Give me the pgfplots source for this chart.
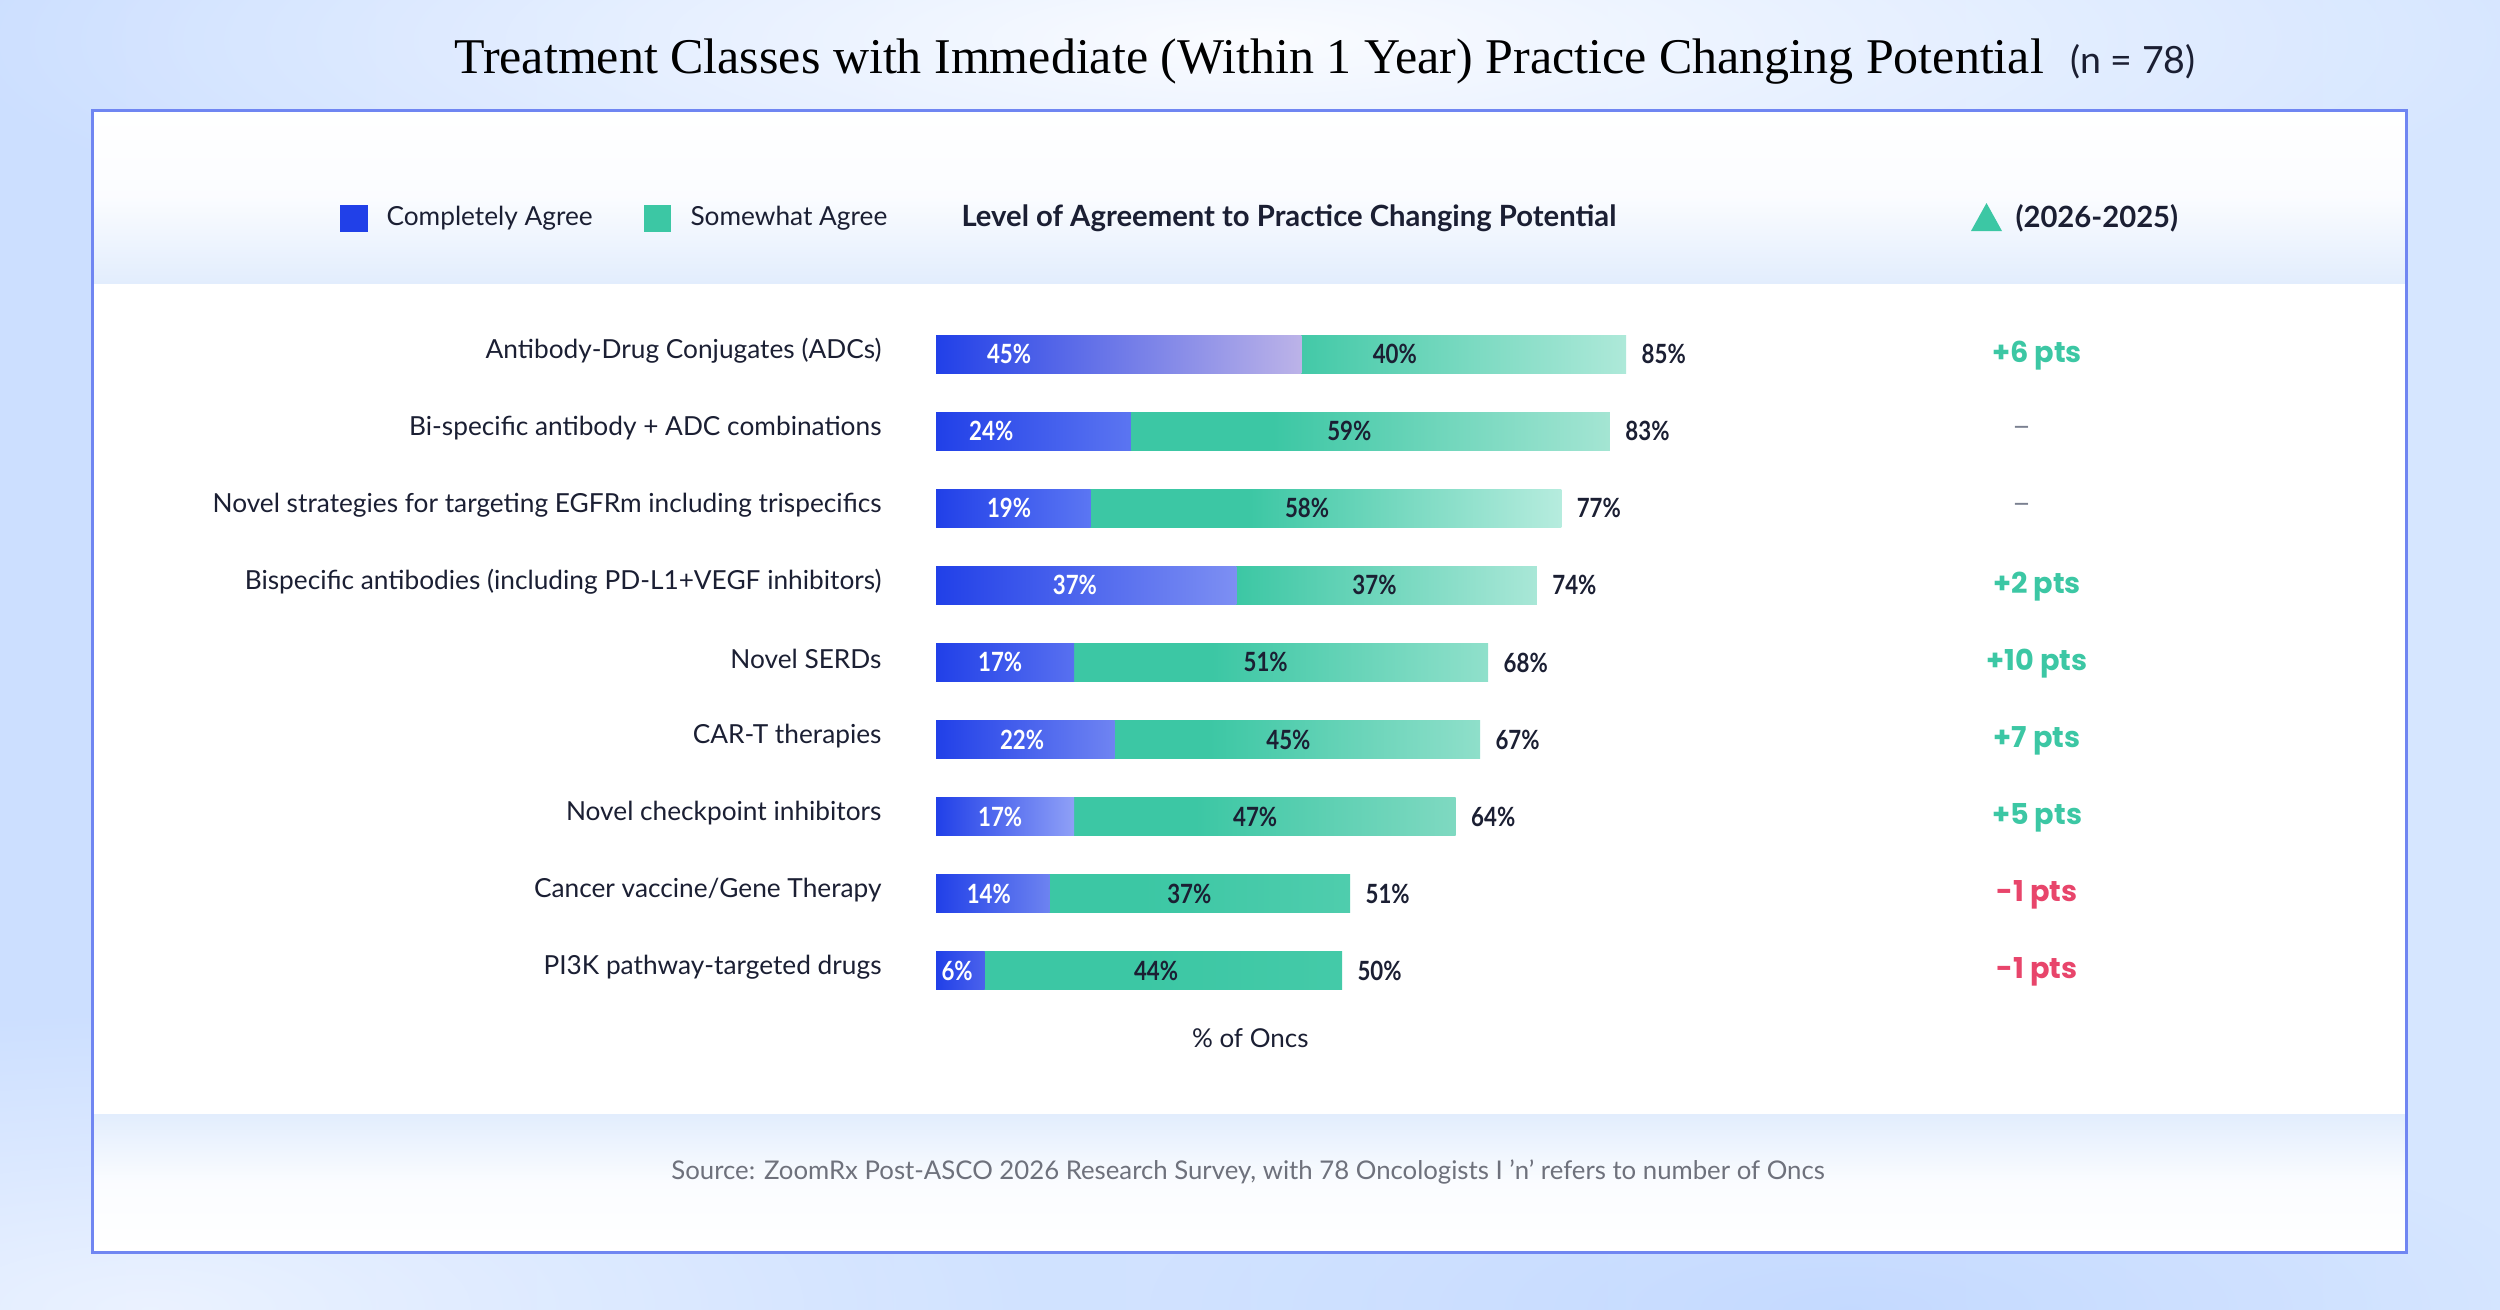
\documentclass[border=0pt]{standalone}
\usepackage{fontspec}
\setmainfont{Lato}
\usepackage{pgfplots}
\pgfplotsset{compat=1.18}
\usepackage{pgfplotstable}
\usetikzlibrary{fadings}

\newfontfamily\titlefont{Liberation Serif}
\newfontfamily\numfont{Lato}[FakeStretch=0.84]
\newfontfamily\deltafont{Poppins}

% palette
\definecolor{ink}{HTML}{1B1F33}
\definecolor{bgL}{HTML}{CCDFFF}
\definecolor{bgR}{HTML}{D6E6FF}
\definecolor{bgDeep}{HTML}{BBD3FF}
\definecolor{frame}{HTML}{7086F2}
\definecolor{hdr}{HTML}{E2EDFD}
\definecolor{srcgray}{HTML}{6E717C}
\definecolor{dashgray}{HTML}{7A8090}
\definecolor{upgreen}{HTML}{3CC7A4}
\definecolor{downred}{HTML}{E8456B}
\definecolor{bL}{HTML}{2140E8}
\definecolor{gL}{HTML}{3CC7A4}
% right-end tints of each bar, top row (0) to bottom row (8)
\definecolor{b0}{HTML}{BCB3E8}
\definecolor{b1}{HTML}{5B75F1}
\definecolor{b2}{HTML}{5B76F3}
\definecolor{b3}{HTML}{7D8FF3}
\definecolor{b4}{HTML}{5870F0}
\definecolor{b5}{HTML}{6F84F2}
\definecolor{b6}{HTML}{8FA0F7}
\definecolor{b7}{HTML}{6D83F0}
\definecolor{b8}{HTML}{4B62EC}
\definecolor{g0}{HTML}{AEE9D9}
\definecolor{g1}{HTML}{A4E5D3}
\definecolor{g2}{HTML}{B6ECDE}
\definecolor{g3}{HTML}{A9E7D7}
\definecolor{g4}{HTML}{90E0CB}
\definecolor{g5}{HTML}{8FDFCA}
\definecolor{g6}{HTML}{7FD9C1}
\definecolor{g7}{HTML}{4FCDAD}
\definecolor{g8}{HTML}{44CAA8}

\tikzfading[name=glow, inner color=transparent!0, outer color=transparent!100]

% ca = completely agree, sa = somewhat agree, tot = ca + sa
% cax / sax = where the segment labels sit
\pgfplotstableread{
row ca sa tot cax  sax
9   45 40 85  9.0  56.5
8   24 59 83  6.8  50.9
7   19 58 77  9.0  45.7
6   37 37 74  17.1 54.0
5   17 51 68  7.9  40.6
4   22 45 67  10.6 43.4
3   17 47 64  7.9  39.3
2   14 37 51  6.5  31.2
1   6  44 50  2.6  27.1
}\agree

\begin{document}
\begin{tikzpicture}
\begin{scope}[x=0.4pt,y=-0.4pt]
  \useasboundingbox (0,0) rectangle (2500,1309);
  % backdrop
  \shade[left color=bgL, right color=bgR] (0,0) rectangle (2500,1309);
  \fill[white, opacity=0.9, path fading=glow] (1250,40) ellipse [x radius=1300, y radius=260];
  \fill[white, opacity=0.6, path fading=glow] (150,1309) ellipse [x radius=900, y radius=300];
  \fill[bgDeep, opacity=0.6, path fading=glow] (1850,1309) ellipse [x radius=700, y radius=200];
  % title
  \node[anchor=base, inner sep=0pt, font=\titlefont\fontsize{20pt}{23pt}\selectfont, text=black]
    at (1249,73) {Treatment Classes with Immediate (Within 1 Year) Practice Changing Potential};
  \node[anchor=base west, inner sep=0pt, font=\fontsize{15pt}{17pt}\selectfont, text=ink]
    at (2070,73) {(n = 78)};
  % panel
  \fill[white] (92,110) rectangle (2406,1252);
  \shade[top color=white, bottom color=hdr, middle color=white!85!hdr] (92,110) rectangle (2406,283);
  \shade[top color=hdr, bottom color=white, middle color=white!85!hdr] (92,1114) rectangle (2406,1252);
  \draw[frame, line width=1.2pt] (92,110) rectangle (2406,1252);
  % header row
  \fill[bL] (340,205) rectangle (368,232);
  \node[anchor=west, inner sep=0pt, font=\fontsize{10.5pt}{12pt}\selectfont, text=ink] at (386,218.5) {Completely Agree};
  \fill[gL] (644,205) rectangle (671,232);
  \node[anchor=west, inner sep=0pt, font=\fontsize{10.5pt}{12pt}\selectfont, text=ink] at (690,218.5) {Somewhat Agree};
  \node[anchor=west, inner sep=0pt, font=\fontsize{11.7pt}{13pt}\selectfont\bfseries, text=ink] at (961,218.5) {Level of Agreement to Practice Changing Potential};
  \fill[upgreen] (1971,231) -- (2002,231) -- (1986.5,203) -- cycle;
  \node[anchor=west, inner sep=0pt, font=\fontsize{11.7pt}{13pt}\selectfont\bfseries, text=ink] at (2015,218.5) {(2026-2025)};
  % source line
  \node[anchor=center, inner sep=0pt, font=\fontsize{10.3pt}{12pt}\selectfont, text=srcgray] at (1248,1172)
    {Source: ZoomRx Post-ASCO 2026 Research Survey, with 78 Oncologists I 'n' refers to number of Oncs};
\end{scope}

\begin{axis}[
  at={(374.4pt,-403.74pt)}, anchor=south west,
  scale only axis, width=324.8pt, height=277.56pt,
  xmin=0, xmax=100, ymin=0.5, ymax=9.5,
  axis line style={draw=none}, tick style={draw=none},
  /pgf/number format/assume math mode=true,
  xtick=\empty,
  ytick={1,...,9},
  yticklabels={PI3K pathway-targeted drugs, Cancer vaccine/Gene Therapy, Novel checkpoint inhibitors,
    CAR-T therapies, Novel SERDs, Bispecific antibodies (including PD-L1+VEGF inhibitors),
    Novel strategies for targeting EGFRm including trispecifics, Bi-specific antibody + ADC combinations,
    Antibody-Drug Conjugates (ADCs)},
  yticklabel style={font=\fontsize{10.5pt}{12pt}\selectfont, text=ink, anchor=east, inner sep=0pt, xshift=-21.6pt, yshift=1.4pt},
  xlabel={\% of Oncs},
  xlabel style={at={(axis description cs:0.387,-0.0413)}, anchor=center, inner sep=0pt,
    font=\fontsize{10.4pt}{12pt}\selectfont, text=ink},
  clip=false,
]
% full bars (somewhat agree shows beyond the blue part)
\pgfplotsinvokeforeach{0,...,8}{
  \addplot[xbar, bar shift=0pt, bar width=15.2pt, draw=none,
    x filter/.expression={\coordindex==#1 ? x : nan},
    left color=gL, right color=g#1, middle color=gL]
    table[x=tot, y=row] {\agree};
}
% completely agree
\pgfplotsinvokeforeach{0,...,8}{
  \addplot[xbar, bar shift=0pt, bar width=15.2pt, draw=none,
    x filter/.expression={\coordindex==#1 ? x : nan},
    left color=bL, right color=b#1]
    table[x=ca, y=row] {\agree};
}
% segment labels
\addplot[draw=none, mark=none, point meta=explicit,
  nodes near coords={\pgfmathprintnumber{\pgfplotspointmeta}\%},
  nodes near coords align={center},
  every node near coord/.append style={font=\numfont\bfseries\fontsize{10.6pt}{12pt}\selectfont, text=white, inner sep=0pt}]
  table[x=cax, y=row, meta=ca] {\agree};
\addplot[draw=none, mark=none, point meta=explicit,
  nodes near coords={\pgfmathprintnumber{\pgfplotspointmeta}\%},
  nodes near coords align={center},
  every node near coord/.append style={font=\numfont\bfseries\fontsize{10.6pt}{12pt}\selectfont, text=ink, inner sep=0pt}]
  table[x=sax, y=row, meta=sa] {\agree};
% totals
\addplot[draw=none, mark=none, point meta=explicit,
  nodes near coords={\pgfmathprintnumber{\pgfplotspointmeta}\%},
  nodes near coords align={horizontal},
  every node near coord/.append style={font=\numfont\bfseries\fontsize{10.6pt}{12pt}\selectfont, text=ink, inner sep=0pt, xshift=6pt}]
  table[x=tot, y=row, meta=tot] {\agree};
% change vs previous year
\addplot[draw=none, mark=none, point meta=explicit symbolic,
  nodes near coords={\pgfplotspointmeta\ pts},
  nodes near coords align={center},
  every node near coord/.append style={font=\deltafont\bfseries\fontsize{11.5pt}{13pt}\selectfont, text=upgreen, inner sep=0pt, yshift=-0.5pt}]
  table[x expr=135.6, y=row, meta=d] {
row d
9 +6
6 +2
5 +10
4 +7
3 +5
};
\addplot[draw=none, mark=none, point meta=explicit symbolic,
  nodes near coords={\pgfplotspointmeta\ pts},
  nodes near coords align={center},
  every node near coord/.append style={font=\deltafont\bfseries\fontsize{11.5pt}{13pt}\selectfont, text=downred, inner sep=0pt, yshift=-0.5pt}]
  table[x expr=135.6, y=row, meta=d] {
row d
2 -1
1 -1
};
\addplot[draw=none, mark=none,
  nodes near coords={–},
  nodes near coords align={center},
  every node near coord/.append style={font=\deltafont\fontsize{10pt}{12pt}\selectfont, text=dashgray, inner sep=0pt}]
  table[x expr=133.7, y=row] {
row
8
7
};
\end{axis}
\end{tikzpicture}
\end{document}
